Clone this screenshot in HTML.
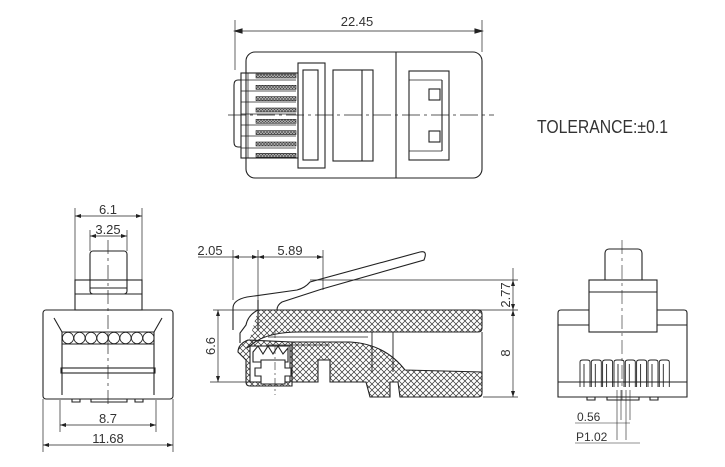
<!DOCTYPE html>
<html><head><meta charset="utf-8"><style>
html,body{margin:0;padding:0;background:#fff;}
svg{display:block;}
text{font-family:"Liberation Sans",sans-serif;fill:#333;}
</style></head><body>
<svg width="725" height="467" viewBox="0 0 725 467" xmlns="http://www.w3.org/2000/svg">
<defs>
<pattern id="h" width="6" height="6" patternUnits="userSpaceOnUse">
<path d="M0 0L6 6M6 0L0 6" stroke="#333" stroke-width="0.7"/>
</pattern>
<pattern id="c" width="3" height="3" patternUnits="userSpaceOnUse">
<rect width="3" height="3" fill="#bbb"/><path d="M0 0L3 3M3 0L0 3" stroke="#444" stroke-width="0.6"/>
</pattern>
</defs>
<g fill="none" stroke="#222" stroke-width="1.1">
<!-- TOP VIEW -->
<line x1="235" y1="20" x2="235" y2="70" stroke-width="0.7"/>
<line x1="482" y1="20" x2="482" y2="52" stroke-width="0.7"/>
<line x1="235" y1="31" x2="482" y2="31" stroke-width="0.7"/>
<path d="M235 31l7-2v4zM482 31l-7-2v4z" fill="#222"/>
<rect x="246" y="52" width="236" height="126" rx="9"/>
<line x1="396" y1="52" x2="396" y2="178"/>
<path d="M241 80h-3q-4 0-4 5v57q0 5 4 5h3"/>
<rect x="241" y="73" width="57" height="85"/>
<g>
<rect x="256" y="74" width="40" height="4" fill="url(#c)" stroke-width="0.6"/>
<rect x="256" y="85.3" width="40" height="4" fill="url(#c)" stroke-width="0.6"/>
<rect x="256" y="96.6" width="40" height="4" fill="url(#c)" stroke-width="0.6"/>
<rect x="256" y="108" width="40" height="4" fill="url(#c)" stroke-width="0.6"/>
<rect x="256" y="119.3" width="40" height="4" fill="url(#c)" stroke-width="0.6"/>
<rect x="256" y="130.6" width="40" height="4" fill="url(#c)" stroke-width="0.6"/>
<rect x="256" y="142" width="40" height="4" fill="url(#c)" stroke-width="0.6"/>
<rect x="256" y="153.3" width="40" height="4" fill="url(#c)" stroke-width="0.6"/>
</g>
<g stroke-width="0.7">
<path d="M241 80h55M241 91h55M241 102h55M241 114h55M241 125h55M241 136h55M241 148h55"/>
<path d="M248 73v85"/>
</g>
<rect x="298" y="63" width="27" height="105"/>
<rect x="303" y="70" width="15" height="90"/>
<rect x="333" y="70" width="40" height="91"/>
<line x1="362" y1="70" x2="362" y2="161"/>
<rect x="409" y="71" width="40" height="89"/>
<line x1="442" y1="80" x2="442" y2="151"/>
<line x1="409" y1="80" x2="442" y2="80" stroke-width="0.7"/>
<line x1="409" y1="151" x2="442" y2="151" stroke-width="0.7"/>
<rect x="429" y="89" width="11" height="11"/>
<rect x="429" y="131" width="11" height="11"/>
<line x1="228" y1="115" x2="494" y2="115" stroke-width="0.7" stroke-dasharray="18 4 3 4"/>

<!-- LEFT FRONT VIEW -->
<g stroke-width="0.7">
<line x1="75" y1="208" x2="75" y2="280"/><line x1="142" y1="208" x2="142" y2="280"/>
<line x1="75" y1="216" x2="142" y2="216"/>
<line x1="90" y1="230" x2="90" y2="251"/><line x1="127" y1="230" x2="127" y2="251"/>
<line x1="90" y1="236" x2="127" y2="236"/>
<line x1="60" y1="400" x2="60" y2="432"/><line x1="156" y1="400" x2="156" y2="432"/>
<line x1="60" y1="425" x2="156" y2="425"/>
<line x1="43" y1="399" x2="43" y2="452"/><line x1="173" y1="399" x2="173" y2="452"/>
<line x1="43" y1="445" x2="173" y2="445"/>
<line x1="108" y1="240" x2="108" y2="405" stroke-dasharray="14 4 3 4"/>
</g>
<path d="M75 216l6-2v4zM142 216l-6-2v4zM90 236l6-2v4zM127 236l-6-2v4zM60 425l6-2v4zM156 425l-6-2v4zM43 445l6-2v4zM173 445l-6-2v4z" fill="#222" stroke="none"/>
<rect x="90" y="251" width="37" height="43" rx="3"/>
<line x1="90" y1="288" x2="127" y2="288"/>
<rect x="75" y="280" width="67" height="30"/>
<line x1="75" y1="294" x2="142" y2="294"/>
<rect x="43" y="310" width="130" height="89" rx="3"/>
<path d="M54 318l8 14v63M162 318l-8 14v63"/>
<path d="M62 332h92M62 344h92"/>
<g stroke-width="0.8">
<circle cx="68" cy="338" r="5.6"/><circle cx="79.5" cy="338" r="5.6"/><circle cx="91" cy="338" r="5.6"/><circle cx="102.5" cy="338" r="5.6"/><circle cx="114" cy="338" r="5.6"/><circle cx="125.5" cy="338" r="5.6"/><circle cx="137" cy="338" r="5.6"/><circle cx="148.5" cy="338" r="5.6"/>
</g>
<rect x="61" y="368" width="94" height="5"/>
<path d="M72 399v3h8v-3M91 399v3h36v-3M135 399v3h8v-3"/>

<!-- SIDE VIEW -->
<g stroke-width="0.7">
<line x1="213" y1="310" x2="518" y2="310"/>
<line x1="310" y1="280" x2="518" y2="280"/>
<line x1="483" y1="397" x2="518" y2="397"/>
<line x1="210" y1="382" x2="255" y2="382"/>
<line x1="513" y1="268" x2="513" y2="397"/>
<line x1="218" y1="310" x2="218" y2="382"/>
<line x1="233" y1="250" x2="233" y2="300"/><line x1="258" y1="250" x2="258" y2="300"/><line x1="323" y1="250" x2="323" y2="290"/>
<line x1="198" y1="257" x2="323" y2="257"/>
</g>
<path d="M513 280l-2 6h4zM513 310l-2-6h4zM513 310l-2 6h4zM513 397l-2-6h4zM218 310l-2 6h4zM218 382l-2-6h4zM233 257l6-2v4zM258 257l-6-2v4zM258 257l6-2v4zM323 257l-6-2v4z" fill="#222" stroke="none"/>
<!-- latch -->
<path d="M233 330v-22q0-8 14-11l50-7q8-2 13-8L420 252q8-2 4 8L322 289l-40 13q-5 3-5 8"/>
<path d="M258 300v30"/>
<!-- upper body hatched -->
<path d="M258 310H478q4 0 4 4v14q0 4-4 4H300q-30 0-45 10l-8 6" fill="url(#h)"/>
<path d="M258 310q-10 5-12 15l-6 8v10" />
<!-- lower hatched -->
<path d="M292 342H350q35 2 55 28l77 2v21q0 4-4 4H400l-2-15h-8v15h-20l-4-15H330v-22h-12v22h-26z" fill="url(#h)"/>
<path d="M248 340q-10 4-10 12l8 8v22q0 4 4 4h42v-44z" fill="url(#h)"/>
<rect x="250" y="346" width="40" height="36" fill="#fff"/>
<path d="M253 352l5-6 5 8 5-8 5 8 5-8 5 8 5-6v14h-35z" fill="#fff"/>
<path d="M255 368h6v-8h24v8h6v8h-6v8h-24v-8h-6z" fill="#fff"/>
<path d="M268 345h62M268 337h100" stroke-width="0.8"/>
<path d="M372 332v40M393 332v40M482 332v40" stroke-width="0.9"/>
<line x1="275" y1="330" x2="275" y2="395" stroke-width="0.6" stroke-dasharray="8 3 2 3"/>

<!-- RIGHT FRONT VIEW -->
<rect x="605" y="249" width="37" height="44" rx="4"/>
<line x1="605" y1="287" x2="642" y2="287"/>
<rect x="589" y="280" width="68" height="52" fill="#fff"/>
<line x1="589" y1="292" x2="657" y2="292"/>
<path d="M589 310h-28q-3 0-3 3v84h129v-84q0-3-3-3h-27"/>
<path d="M558 325h31M657 325h30M558 382h129"/>
<g stroke-width="0.9">
<path d="M580 387v-25q0-2 3-2h4q3 0 3 2v25M584 387v-23"/>
<path d="M591.3 387v-25q0-2 3-2h4q3 0 3 2v25M595.3 387v-23"/>
<path d="M602.6 387v-25q0-2 3-2h4q3 0 3 2v25M606.6 387v-23"/>
<path d="M614 387v-25q0-2 3-2h4q3 0 3 2v25M618 387v-23"/>
<path d="M625.3 387v-25q0-2 3-2h4q3 0 3 2v25M629.3 387v-23"/>
<path d="M636.6 387v-25q0-2 3-2h4q3 0 3 2v25M640.6 387v-23"/>
<path d="M648 387v-25q0-2 3-2h4q3 0 3 2v25M652 387v-23"/>
<path d="M659.3 387v-25q0-2 3-2h4q3 0 3 2v25M663.3 387v-23"/>
</g>
<path d="M587 397v3h8v-3M607 397v3h32v-3M650 397v3h8v-3"/>
<g stroke-width="0.6">
<line x1="622" y1="240" x2="622" y2="400" stroke-dasharray="14 4 3 4"/>
<path d="M617 390v50M621 390v30M626 390v50M630 390v30"/>
<line x1="575" y1="423" x2="630" y2="423"/>
<line x1="575" y1="443" x2="640" y2="443"/>
</g>
</g>
<text x="357" y="26" font-size="13" text-anchor="middle">22.45</text>
<text x="537" y="133" font-size="18" textLength="131" lengthAdjust="spacingAndGlyphs" fill="#555">TOLERANCE:±0.1</text>
<text x="108" y="214" font-size="13" text-anchor="middle">6.1</text>
<text x="108" y="234" font-size="13" text-anchor="middle">3.25</text>
<text x="108" y="423" font-size="13" text-anchor="middle">8.7</text>
<text x="108" y="443" font-size="13" text-anchor="middle">11.68</text>
<text x="210" y="255" font-size="13" text-anchor="middle">2.05</text>
<text x="290" y="255" font-size="13" text-anchor="middle">5.89</text>
<text transform="translate(215 346) rotate(-90)" font-size="13" text-anchor="middle">6.6</text>
<text transform="translate(510 295) rotate(-90)" font-size="13" text-anchor="middle">2.77</text>
<text transform="translate(510 353) rotate(-90)" font-size="13" text-anchor="middle">8</text>
<text x="577" y="421" font-size="12">0.56</text>
<text x="576" y="441" font-size="12">P1.02</text>
</svg>
</body></html>
